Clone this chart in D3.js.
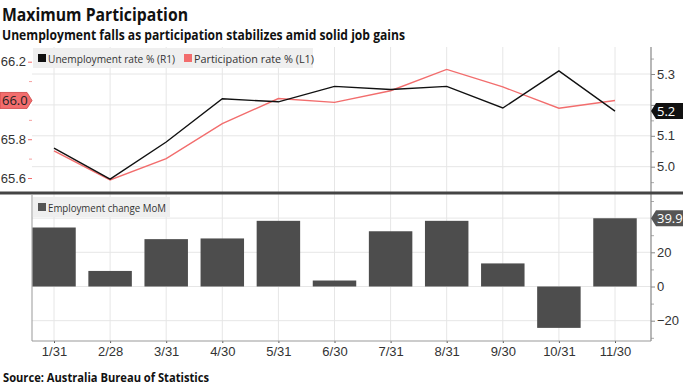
<!DOCTYPE html>
<html>
<head>
<meta charset="utf-8">
<script src="https://cdn.jsdelivr.net/npm/d3@7"></script>
<style>
  body { margin: 0; background: #fff; }
  svg { display: block; font-family: "Open Sans", sans-serif; }
  .tick text { fill: #333; font-size: 13px; }
</style>
</head>
<body>
<svg id="chart" width="683" height="384"></svg>
<script>
var dates = ["1/31", "2/28", "3/31", "4/30", "5/31", "6/30", "7/31", "8/31", "9/30", "10/31", "11/30"];
var unemployment = [5.06, 4.96, 5.08, 5.22, 5.21, 5.26, 5.25, 5.26, 5.19, 5.31, 5.18];
var participation = [65.74, 65.59, 65.70, 65.88, 66.01, 65.99, 66.05, 66.16, 66.07, 65.96, 66.0];
var employment = [34.5, 9.1, 27.7, 28.1, 38.4, 3.5, 32.3, 38.4, 13.5, -24.2, 39.9];
var leftTicks = [65.6, 65.8, 66.0, 66.2];
var leftMinor = [65.7, 65.9, 66.1];
var rightTicks = [5.0, 5.1, 5.2, 5.3];
var rightMinor = [4.95, 5.05, 5.15, 5.25, 5.35];
var barTicks = [-20, 0, 20];
var barMinor = [-30, -10, 10, 30, 40, 50];

var svg, x, yL, yR, yB, left, right, top1, bot1, top2, bot2, bw, fmt;
svg = d3.select("#chart");
left = 32; right = 651;
top1 = 47; bot1 = 192;
top2 = 195; bot2 = 341;
fmt = d3.format(".1f");

x = d3.scalePoint().domain(dates).range([54, 615]);
yL = d3.scaleLinear().domain([65.6, 66.2]).range([178, 61.7]);
yR = d3.scaleLinear().domain([5.0, 5.3]).range([166.7, 74]);
yB = d3.scaleLinear().domain([-20, 20]).range([320.7, 252.3]);
bw = x.step() * 0.775;

// titles
svg.append("text").attr("x", 2).attr("y", 21)
  .attr("font-size", 18).attr("font-weight", "bold").attr("fill", "#111")
  .attr("textLength", 186).attr("lengthAdjust", "spacingAndGlyphs")
  .text("Maximum Participation");
svg.append("text").attr("x", 2).attr("y", 40)
  .attr("font-size", 13.5).attr("font-weight", "bold").attr("fill", "#111")
  .attr("textLength", 403).attr("lengthAdjust", "spacingAndGlyphs")
  .text("Unemployment falls as participation stabilizes amid solid job gains");
svg.append("text").attr("x", 3).attr("y", 382)
  .attr("font-size", 11.5).attr("font-weight", "bold").attr("fill", "#111")
  .attr("textLength", 206).attr("lengthAdjust", "spacingAndGlyphs")
  .text("Source: Australia Bureau of Statistics");

// grids
var grid = svg.append("g").attr("stroke", "#e6e6e6").attr("stroke-width", 1);
dates.forEach(function(d) {
  grid.append("line").attr("x1", x(d)).attr("x2", x(d)).attr("y1", top1).attr("y2", bot2);
});
rightTicks.forEach(function(v) {
  grid.append("line").attr("x1", left).attr("x2", right).attr("y1", yR(v)).attr("y2", yR(v));
});
[-20, 0, 20, 40].forEach(function(v) {
  grid.append("line").attr("x1", left).attr("x2", right).attr("y1", yB(v)).attr("y2", yB(v));
});

// legends
var legend = function(y, w, items) {
  var g = svg.append("g");
  g.append("rect").attr("x", 33).attr("y", y).attr("width", w).attr("height", 20).attr("fill", "#efefef");
  items.forEach(function(it) {
    g.append("rect").attr("x", it.x).attr("y", y + 6).attr("width", 8).attr("height", 8).attr("fill", it.color);
    g.append("text").attr("x", it.x + 10).attr("y", y + 14.5).attr("font-size", 11.5).attr("fill", "#333")
      .attr("textLength", it.len).attr("lengthAdjust", "spacingAndGlyphs").text(it.label);
  });
};
legend(48, 280, [
  {x: 38, color: "#111", label: "Unemployment rate % (R1)", len: 127},
  {x: 184, color: "#f26d6d", label: "Participation rate % (L1)", len: 120}
]);
legend(197, 137, [
  {x: 38, color: "#555", label: "Employment change MoM", len: 118}
]);

// bars
svg.append("g").selectAll("rect").data(employment).join("rect")
  .attr("x", function(d, i) { return x(dates[i]) - bw / 2; })
  .attr("y", function(d) { return yB(Math.max(0, d)); })
  .attr("width", bw)
  .attr("height", function(d) { return Math.abs(yB(d) - yB(0)); })
  .attr("fill", "#4d4d4d");

// lines
var lineL = d3.line().x(function(d, i) { return x(dates[i]); }).y(function(d) { return yL(d); });
var lineR = d3.line().x(function(d, i) { return x(dates[i]); }).y(function(d) { return yR(d); });
svg.append("path").datum(participation).attr("d", lineL)
  .attr("fill", "none").attr("stroke", "#f26d6d").attr("stroke-width", 1.4);
svg.append("path").datum(unemployment).attr("d", lineR)
  .attr("fill", "none").attr("stroke", "#111").attr("stroke-width", 1.4);

// axes; tick labels under a last-value tag are dropped (the tag covers them)
var strip = function(g, color, hide) {
  g.select(".domain").remove();
  g.selectAll(".tick line").attr("stroke", color);
  if (hide !== undefined) {
    g.selectAll(".tick").filter(function(d) { return fmt(d) === hide; }).select("text").remove();
  }
};
svg.append("g").attr("transform", "translate(" + left + ",0)")
  .call(d3.axisLeft(yL).tickValues(leftTicks).tickSize(4).tickPadding(2).tickFormat(fmt))
  .call(strip, "#f26d6d", fmt(participation[10]));
svg.append("g").attr("transform", "translate(" + left + ",0)")
  .call(d3.axisLeft(yL).tickValues(leftMinor).tickSize(3).tickFormat(""))
  .call(strip, "#f6a0a0");
svg.append("g").attr("transform", "translate(" + right + ",0)")
  .call(d3.axisRight(yR).tickValues(rightTicks).tickSize(4).tickPadding(2).tickFormat(fmt))
  .call(strip, "#888", fmt(unemployment[10]));
svg.append("g").attr("transform", "translate(" + right + ",0)")
  .call(d3.axisRight(yR).tickValues(rightMinor).tickSize(3).tickFormat(""))
  .call(strip, "#aaa");
svg.append("g").attr("transform", "translate(" + right + ",0)")
  .call(d3.axisRight(yB).tickValues(barTicks).tickSize(4).tickPadding(2).tickFormat(d3.format("d")))
  .call(strip, "#888");
svg.append("g").attr("transform", "translate(" + right + ",0)")
  .call(d3.axisRight(yB).tickValues(barMinor).tickSize(3).tickFormat(""))
  .call(strip, "#aaa");
svg.append("g").attr("transform", "translate(0," + bot2 + ")")
  .call(d3.axisBottom(x).tickSize(2).tickPadding(4))
  .call(strip, "#555");

svg.append("line").attr("x1", right).attr("x2", right).attr("y1", top1).attr("y2", bot2)
  .attr("stroke", "#888").attr("stroke-width", 1.2);
svg.append("line").attr("x1", left).attr("x2", left).attr("y1", top2).attr("y2", bot2)
  .attr("stroke", "#999").attr("stroke-width", 1);
svg.append("line").attr("x1", left).attr("x2", right).attr("y1", bot2).attr("y2", bot2)
  .attr("stroke", "#999").attr("stroke-width", 1);
svg.append("line").attr("x1", 0).attr("x2", 683).attr("y1", 193).attr("y2", 193)
  .attr("stroke", "#444").attr("stroke-width", 3);

// last value tags
var tag = function(y, value, fill, color, side) {
  var g = svg.append("g").attr("transform", "translate(0," + y + ")");
  var pts;
  if (side === "left") {
    pts = [[0, -8], [27, -8], [32, 0], [27, 8], [0, 8]];
  } else {
    pts = [[651, 0], [656, -8], [683, -8], [683, 8], [656, 8]];
  }
  g.append("polygon").attr("points", pts.map(function(p) { return p.join(","); }).join(" "))
    .attr("fill", fill).attr("stroke", side === "left" ? "#c44" : "none").attr("stroke-width", 0.8);
  g.append("text").attr("x", side === "left" ? 2 : 657).attr("y", 4.5)
    .attr("font-size", 13).attr("fill", color).text(value);
};
tag(yL(participation[10]), fmt(participation[10]), "#f26d6d", "#222", "left");
tag(yR(unemployment[10]), fmt(unemployment[10]), "#111", "#fff", "right");
tag(yB(employment[10]), fmt(employment[10]), "#555", "#fff", "right");
</script>
</body>
</html>
